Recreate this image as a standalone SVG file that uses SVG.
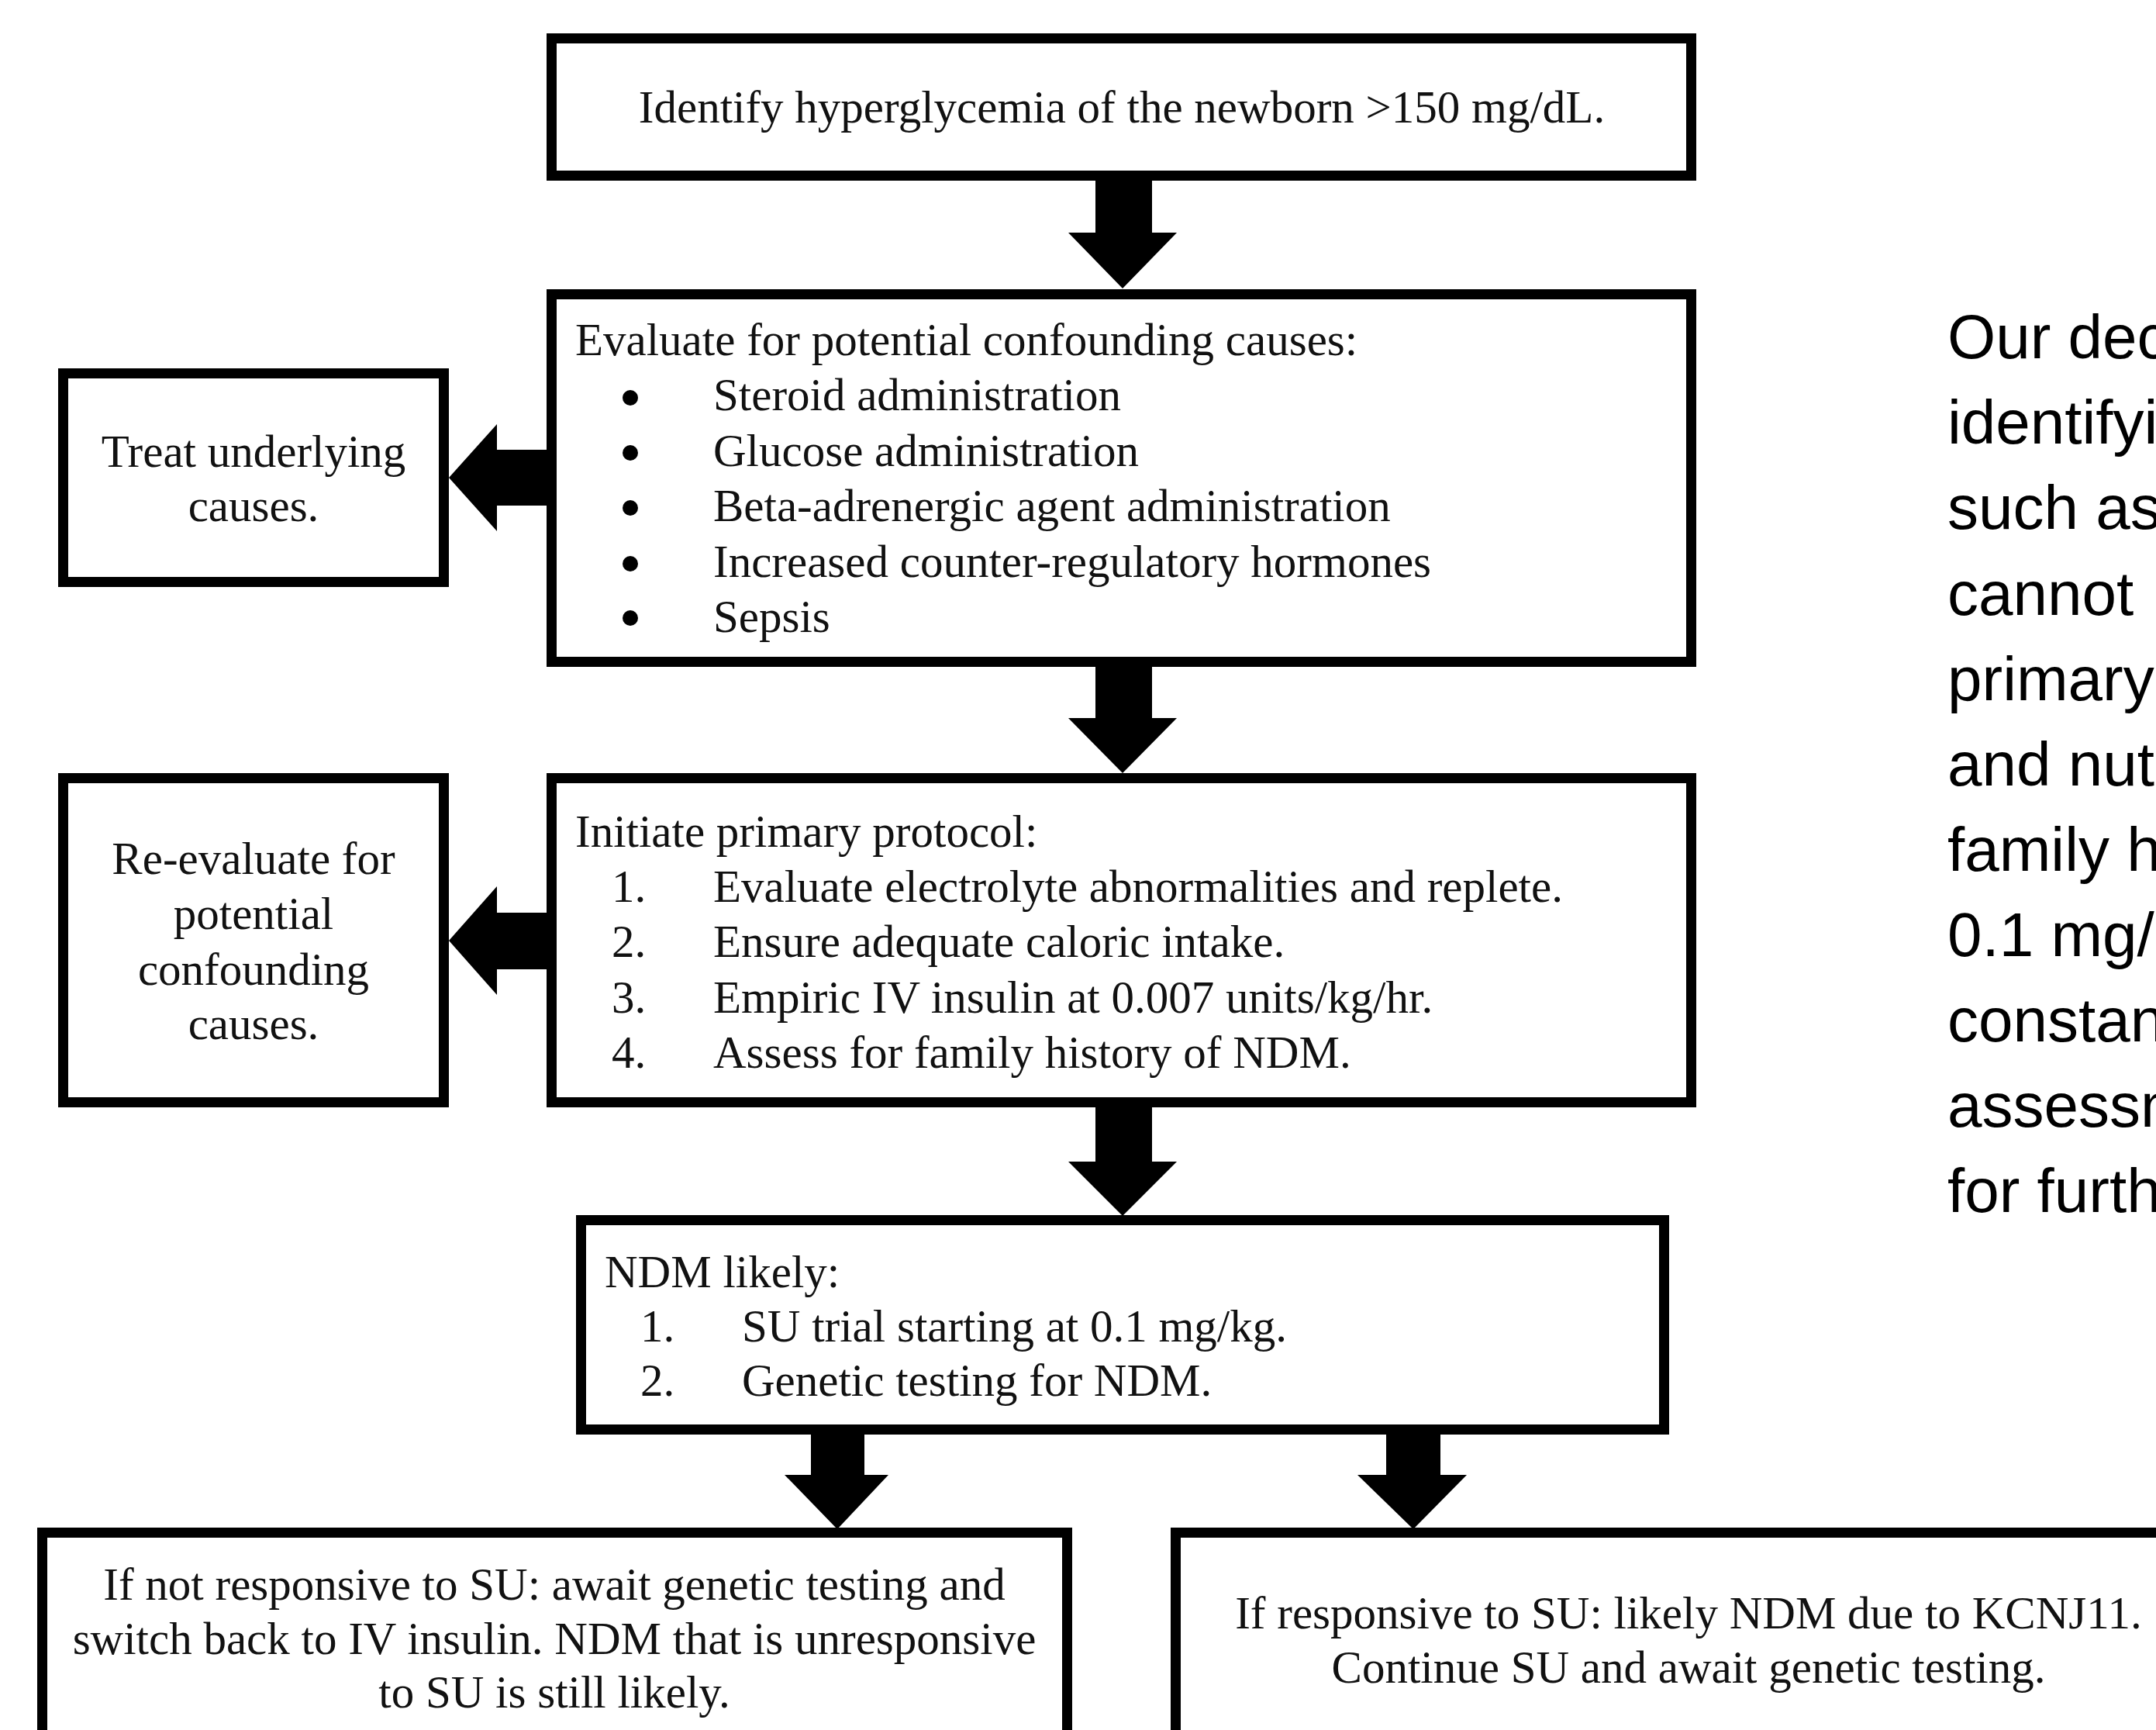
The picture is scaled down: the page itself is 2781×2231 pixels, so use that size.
<svg xmlns="http://www.w3.org/2000/svg" width="2781" height="2231" viewBox="0 0 2781 2231">
<style>
.box{fill:#fff;stroke:#000;stroke-width:13}
.t{font-family:"Liberation Serif","Times New Roman",serif;font-size:59px;fill:#111}
.c{text-anchor:middle}
.p{font-family:"Liberation Sans",Arial,sans-serif;font-size:80px;fill:#000}
.arr{fill:#000}
</style>
<rect width="2781" height="2231" fill="#fff"/>
<g id="connectors">
<polygon class="arr" points="1413,233 1486,233 1486,300 1518,300 1448,372 1378,300 1413,300"/>
<polygon class="arr" points="1413,860 1486,860 1486,926 1518,926 1448,997 1378,926 1413,926"/>
<polygon class="arr" points="1413,1428 1486,1428 1486,1498 1518,1498 1448,1568 1378,1498 1413,1498"/>
<polygon class="arr" points="1046,1850 1115,1850 1115,1902 1146,1902 1080,1972 1012,1902 1046,1902"/>
<polygon class="arr" points="1788,1850 1858,1850 1858,1902 1892,1902 1823,1972 1751,1902 1788,1902"/>
<polygon class="arr" points="706,580 706,652 641,652 641,685 579,616 641,547 641,580"/>
<polygon class="arr" points="706,1177 706,1250 641,1250 641,1283 579,1213 641,1143 641,1177"/>
</g>
<g id="n1">
<rect class="box" x="711.5" y="49.5" width="1470" height="177"/>
<text class="t c" x="1447" y="158">Identify hyperglycemia of the newborn &gt;150 mg/dL.</text>
</g>
<g id="n2">
<rect class="box" x="711.5" y="379.5" width="1470" height="474"/>
<text class="t" x="742" y="458">Evaluate for potential confounding causes:</text>
<circle cx="813" cy="513" r="10"/>
<circle cx="813" cy="584" r="10"/>
<circle cx="813" cy="655" r="10"/>
<circle cx="813" cy="727" r="10"/>
<circle cx="813" cy="797" r="10"/>
<text class="t" x="920" y="529">Steroid administration</text>
<text class="t" x="920" y="601">Glucose administration</text>
<text class="t" x="920" y="672">Beta-adrenergic agent administration</text>
<text class="t" x="920" y="744">Increased counter-regulatory hormones</text>
<text class="t" x="920" y="815">Sepsis</text>
</g>
<g id="n3">
<rect class="box" x="81.5" y="481.5" width="491" height="269"/>
<text class="t c" x="327" y="602">Treat underlying</text>
<text class="t c" x="327" y="672">causes.</text>
</g>
<g id="n4">
<rect class="box" x="711.5" y="1003.5" width="1470" height="418"/>
<text class="t" x="742" y="1092">Initiate primary protocol:</text>
<text class="t" x="789" y="1163">1.</text>
<text class="t" x="789" y="1234">2.</text>
<text class="t" x="789" y="1306">3.</text>
<text class="t" x="789" y="1377">4.</text>
<text class="t" x="920" y="1163">Evaluate electrolyte abnormalities and replete.</text>
<text class="t" x="920" y="1234">Ensure adequate caloric intake.</text>
<text class="t" x="920" y="1306">Empiric IV insulin at 0.007 units/kg/hr.</text>
<text class="t" x="920" y="1377">Assess for family history of NDM.</text>
</g>
<g id="n5">
<rect class="box" x="81.5" y="1003.5" width="491" height="418"/>
<text class="t c" x="327" y="1127">Re-evaluate for</text>
<text class="t c" x="327" y="1198">potential</text>
<text class="t c" x="327" y="1270">confounding</text>
<text class="t c" x="327" y="1340">causes.</text>
</g>
<g id="n6">
<rect class="box" x="749.5" y="1573.5" width="1397" height="270"/>
<text class="t" x="780" y="1660">NDM likely:</text>
<text class="t" x="826" y="1730">1.</text>
<text class="t" x="826" y="1800">2.</text>
<text class="t" x="957" y="1730">SU trial starting at 0.1 mg/kg.</text>
<text class="t" x="957" y="1800">Genetic testing for NDM.</text>
</g>
<g id="n7">
<rect class="box" x="54.5" y="1976.5" width="1322" height="320"/>
<text class="t c" x="715" y="2063">If not responsive to SU: await genetic testing and</text>
<text class="t c" x="715" y="2133">switch back to IV insulin. NDM that is unresponsive</text>
<text class="t c" x="715" y="2202">to SU is still likely.</text>
</g>
<g id="n8">
<rect class="box" x="1516.5" y="1976.5" width="1400" height="320"/>
<text class="t c" x="2178" y="2100">If responsive to SU: likely NDM due to KCNJ11.</text>
<text class="t c" x="2178" y="2170">Continue SU and await genetic testing.</text>
</g>
<g id="caption">
<text class="p" x="2512" y="462">Our dec</text>
<text class="p" x="2512" y="572">identifyi</text>
<text class="p" x="2512" y="682">such as</text>
<text class="p" x="2512" y="793">cannot</text>
<text class="p" x="2512" y="903">primary</text>
<text class="p" x="2512" y="1013">and nut</text>
<text class="p" x="2512" y="1123">family h</text>
<text class="p" x="2512" y="1233">0.1 mg/</text>
<text class="p" x="2512" y="1343">constan</text>
<text class="p" x="2512" y="1453">assessm</text>
<text class="p" x="2512" y="1563">for furth</text>
</g>
</svg>
